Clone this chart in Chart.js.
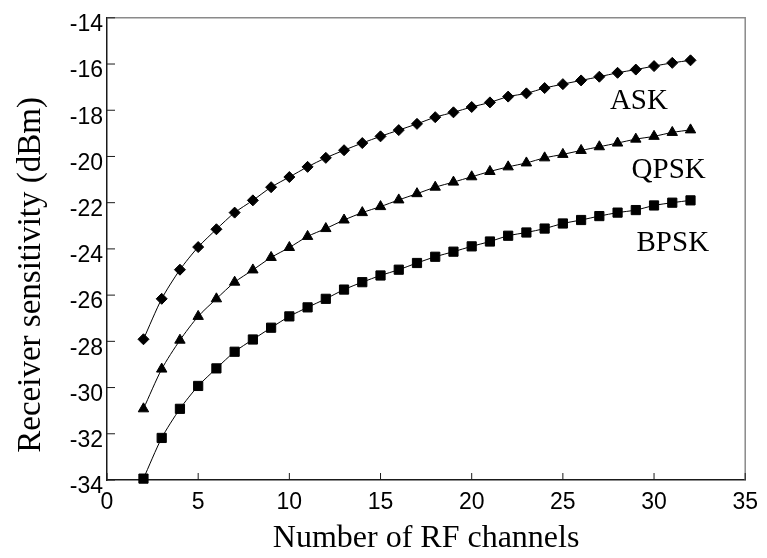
<!DOCTYPE html>
<html>
<head>
<meta charset="utf-8">
<script src="https://cdn.jsdelivr.net/npm/chart.js@4.4.1/dist/chart.umd.min.js"></script>
<style>
  html, body { margin: 0; padding: 0; background: #fff; }
  #wrap { width: 767px; height: 558px; }
</style>
</head>
<body>
<div id="wrap"><canvas id="c" width="767" height="558"></canvas></div>
<script>
// valores
const channels = [2, 3, 4, 5, 6, 7, 8, 9, 10, 11, 12, 13, 14, 15, 16, 17,
  18, 19, 20, 21, 22, 23, 24, 25, 26, 27, 28, 29, 30, 31, 32];
const ask = [-27.91, -26.16, -24.90, -23.92, -23.15, -22.43, -21.90, -21.33, -20.89, -20.45,
  -20.06, -19.73, -19.42, -19.13, -18.86, -18.59, -18.30, -18.09, -17.86, -17.66, -17.41,
  -17.27, -17.04, -16.87, -16.71, -16.55, -16.38, -16.24, -16.09, -15.95, -15.84];
const qpsk = [-30.92, -29.20, -27.95, -26.92, -26.16, -25.44, -24.91, -24.37, -23.94, -23.46,
  -23.12, -22.75, -22.43, -22.17, -21.88, -21.61, -21.33, -21.11, -20.88, -20.65, -20.45,
  -20.28, -20.06, -19.91, -19.74, -19.58, -19.42, -19.25, -19.13, -18.96, -18.85];
const bpsk = [-33.94, -32.18, -30.92, -29.93, -29.17, -28.45, -27.92, -27.41, -26.92, -26.53,
  -26.16, -25.76, -25.44, -25.15, -24.90, -24.61, -24.34, -24.12, -23.89, -23.68, -23.43,
  -23.29, -23.12, -22.90, -22.75, -22.58, -22.43, -22.32, -22.12, -22.00, -21.90];
const seriesNames = ["ASK", "QPSK", "BPSK"];
const xTicks = [0, 5, 10, 15, 20, 25, 30, 35];
const yTicks = [-34, -32, -30, -28, -26, -24, -22, -20, -18, -16, -14];
const yTitle = "Receiver sensitivity (dBm)";

const C = { ink: "#000", axis: "#1a1a1a", frame: "#8a8a8a" };
const SERIF = '"Liberation Serif", "Times New Roman", serif';
const SANS = '"Liberation Sans", Arial, sans-serif';

const pts = (ys) => channels.map((x, i) => ({ x, y: ys[i] }));
const series = (label, ys, style, r) => ({
  label, data: pts(ys),
  borderColor: C.ink, borderWidth: 1, tension: 0.25, clip: false,
  pointStyle: style, pointRadius: r, pointHoverRadius: r,
  pointBackgroundColor: C.ink, pointBorderColor: C.ink, pointBorderWidth: 1,
});

// moldura cinza em cima/direita, ticks para dentro, título do eixo y e rótulos das curvas
const frame = {
  id: "frame",
  afterDraw(chart) {
    const { ctx, chartArea: a, scales: { x, y } } = chart;
    ctx.save();
    ctx.strokeStyle = C.frame; ctx.lineWidth = 1.5;
    ctx.beginPath();
    ctx.moveTo(a.left, a.top); ctx.lineTo(a.right, a.top); ctx.lineTo(a.right, a.bottom);
    ctx.stroke();
    ctx.strokeStyle = C.axis; ctx.lineWidth = 1;
    ctx.beginPath();
    xTicks.forEach((v) => { const p = x.getPixelForValue(v); ctx.moveTo(p, a.bottom); ctx.lineTo(p, a.bottom - 7); });
    yTicks.forEach((v) => { const p = y.getPixelForValue(v); ctx.moveTo(a.left, p); ctx.lineTo(a.left + 8, p); });
    ctx.stroke();
    ctx.fillStyle = C.ink;
    ctx.textAlign = "center"; ctx.textBaseline = "middle";
    ctx.font = `33px ${SERIF}`;
    ctx.save();
    ctx.translate(31, (a.top + a.bottom) / 2 + 26);
    ctx.rotate(-Math.PI / 2);
    ctx.fillText(yTitle, 0, 0);
    ctx.restore();
    ctx.font = `29px ${SERIF}`;
    ctx.textAlign = "left";
    const at = [[27.58, -17.61], [28.77, -20.60], [29.04, -23.76]];
    seriesNames.forEach((n, i) => ctx.fillText(n, x.getPixelForValue(at[i][0]), y.getPixelForValue(at[i][1])));
    ctx.restore();
  },
};

new Chart(document.getElementById("c"), {
  type: "line",
  data: {
    datasets: [
      series(seriesNames[0], ask, "rectRot", 5.5),
      series(seriesNames[1], qpsk, "triangle", 6),
      series(seriesNames[2], bpsk, "rect", 6.5),
    ],
  },
  options: {
    responsive: false, animation: false, maintainAspectRatio: false,
    layout: { padding: { top: 14, right: 13, left: 0, bottom: 0 } },
    plugins: { legend: { display: false }, tooltip: { enabled: false } },
    scales: {
      x: {
        type: "linear", min: 0, max: 35,
        afterBuildTicks: (s) => { s.ticks = xTicks.map((value) => ({ value })); },
        afterFit: (s) => { s.height = 78; },
        grid: { drawOnChartArea: false, drawTicks: false },
        border: { color: C.axis, width: 1.5 },
        ticks: { color: C.ink, font: { family: SANS, size: 23 }, padding: 9, maxRotation: 0 },
        title: { display: true, text: "Number of RF channels", color: C.ink,
          font: { family: SERIF, size: 32 }, padding: { top: -3, bottom: 0 } },
      },
      y: {
        min: -34, max: -14,
        afterBuildTicks: (s) => { s.ticks = yTicks.map((value) => ({ value })); },
        afterFit: (s) => { s.width = 107; },
        grid: { drawOnChartArea: false, drawTicks: false },
        border: { color: C.axis, width: 1.5 },
        ticks: { color: C.ink, font: { family: SANS, size: 23 }, padding: 4, labelOffset: 7 },
      },
    },
  },
  plugins: [frame],
});
</script>
</body>
</html>
